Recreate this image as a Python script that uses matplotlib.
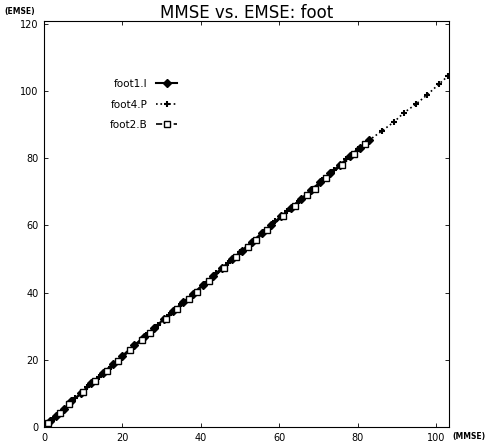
import matplotlib
matplotlib.use("Agg")
import matplotlib.pyplot as plt

# data
foot1_x = [0, 0.5, 1.5, 3, 5, 7, 9.5, 12, 15, 17.5, 20, 23, 25.5, 28, 30.5, 33,
           35.5, 38, 40.5, 43, 45.5, 48, 50.5, 53, 55.5, 58, 60.5, 63, 65.5, 68,
           70.5, 73, 75.5, 78, 80.5, 83]
foot1_y = [0, 0.6, 1.8, 3.2, 5.3, 7.6, 10.1, 13.0, 16.0, 18.7, 21.2, 24.3, 26.8,
           29.4, 32.0, 34.6, 37.1, 39.7, 42.3, 44.9, 47.4, 50.0, 52.5, 55.1, 57.6,
           60.2, 62.7, 65.3, 67.8, 70.4, 72.9, 75.5, 78.0, 80.6, 83.1, 85.5]

foot4_x = [0, 2, 5, 8, 11, 14, 17, 20, 23, 26, 29, 32, 35, 38, 41, 44, 47, 50,
           53, 56, 59, 62, 65, 68, 71, 74, 77, 80, 83, 86.2, 89.3, 91.8, 94.9,
           97.7, 100.8, 103.1]
foot4_y = [0, 2.2, 5.4, 8.6, 11.8, 14.9, 18.0, 21.1, 24.2, 27.3, 30.4, 33.4,
           36.5, 39.6, 42.7, 45.8, 48.9, 52.0, 55.1, 58.1, 61.2, 64.3, 67.3, 70.4,
           73.5, 76.6, 79.6, 82.6, 85.4, 88.1, 90.8, 93.5, 96.1, 98.8, 102.1, 104.5]

foot2_x = [0, 1, 4, 6.5, 10, 13, 16, 19, 22, 25, 27, 31, 34, 37, 39, 42, 46, 49,
           52, 54, 57, 61, 64, 67, 69, 72, 76, 79, 82]
foot2_y = [0, 1.2, 4.3, 6.8, 10.5, 13.6, 16.6, 19.7, 22.8, 25.9, 28.0, 32.0,
           35.1, 38.2, 40.2, 43.3, 47.4, 50.5, 53.6, 55.6, 58.7, 62.8, 65.8, 68.9,
           70.9, 74.0, 78.0, 81.1, 84.2]

xticks = [0, 20, 40, 60, 80, 100]
yticks = [0, 20, 40, 60, 80, 100, 120]

fig = plt.figure(figsize=(4.87, 4.45), dpi=100)
ax = fig.add_axes([0.0903, 0.0404, 0.8317, 0.9124])

ax.plot(foot1_x, foot1_y, '-', color='black', lw=1.5, marker='D',
        markersize=4, label='foot1.I')
ax.plot(foot4_x, foot4_y, ':', color='black', lw=1.2, marker='+',
        markersize=5, markeredgewidth=1.5, label='foot4.P')
ax.plot(foot2_x, foot2_y, '--', color='black', lw=1.2, marker='s',
        markersize=3.8, markerfacecolor='white', label='foot2.B')

ax.set_xlim(0, 103.3)
ax.set_ylim(0, 120.8)
ax.set_xticks(xticks)
ax.set_yticks(yticks)
ax.tick_params(direction='in', top=True, right=True, labelsize=7, length=3,
               width=0.6, pad=4)
for s in ax.spines.values():
    s.set_linewidth(0.8)

ax.set_title('MMSE vs. EMSE: foot', fontsize=12, pad=2)
fig.text(0.01, 0.985, '(EMSE)', fontsize=5.5, fontweight='bold', va='top')
fig.text(0.928, 0.02, '(MMSE)', fontsize=5.5, fontweight='bold', va='center')

ax.legend(loc='upper left', bbox_to_anchor=(0.14, 0.88), frameon=False,
          markerfirst=False, fontsize=7.5, handlelength=2.0, labelspacing=1.0)

fig.savefig('out.png', dpi=100)
